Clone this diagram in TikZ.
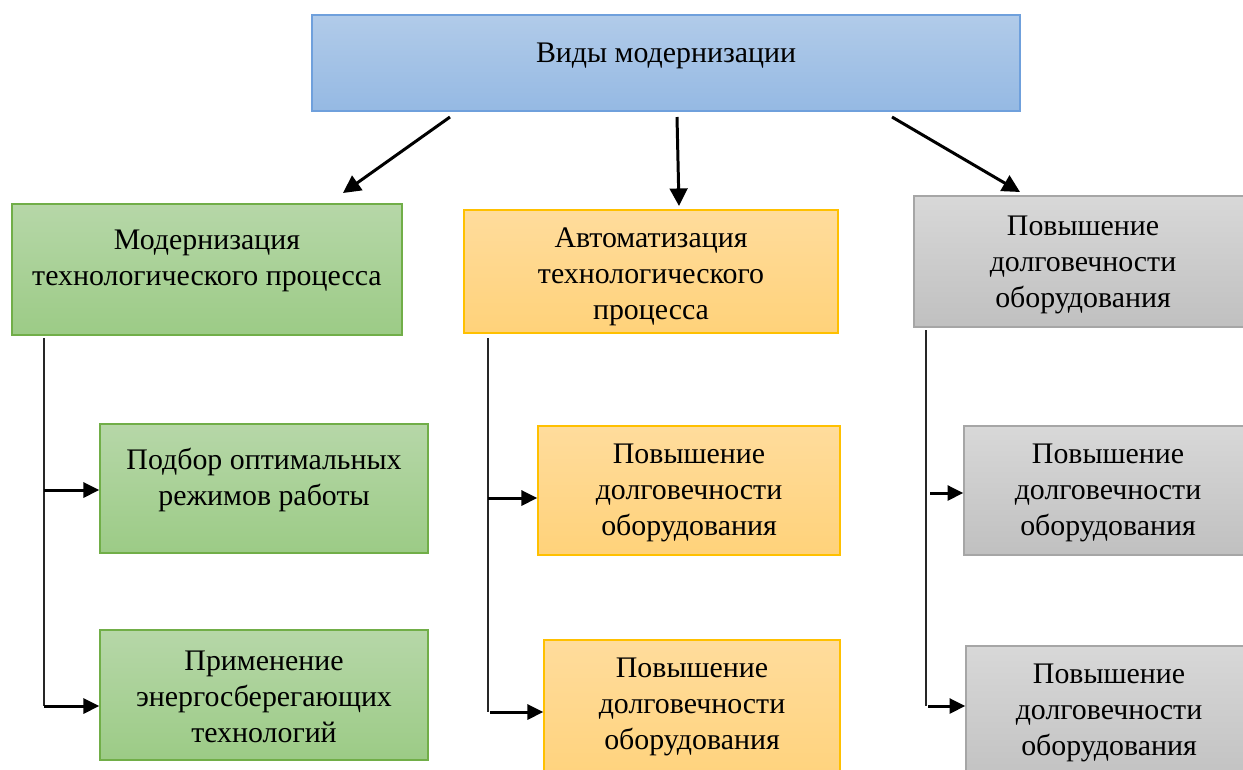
\documentclass[tikz,border=0pt]{standalone}
\usepackage{fontspec}
\setmainfont{Liberation Serif}
\usetikzlibrary{fit,arrows.meta}
\definecolor{modblue}{RGB}{177,203,233}
\definecolor{modbluedark}{RGB}{149,185,227}
\definecolor{modblueline}{RGB}{111,160,220}
\definecolor{modgreen}{RGB}{182,215,168}
\definecolor{modgreendark}{RGB}{156,203,134}
\definecolor{modgreenline}{RGB}{113,174,72}
\definecolor{modorange}{RGB}{255,220,156}
\definecolor{modorangedark}{RGB}{255,210,122}
\definecolor{modorangeline}{RGB}{255,192,0}
\definecolor{modgray}{RGB}{216,216,216}
\definecolor{modgraydark}{RGB}{192,192,192}
\definecolor{modgrayline}{RGB}{166,166,166}

\tikzset{
  box/.style={inner sep=0pt, line width=0.8pt},
  bluebox/.style={box, draw=modblueline, top color=modblue, bottom color=modbluedark},
  greenbox/.style={box, draw=modgreenline, top color=modgreen, bottom color=modgreendark},
  orangebox/.style={box, draw=modorangeline, top color=modorange, bottom color=modorangedark},
  graybox/.style={box, draw=modgrayline, top color=modgray, bottom color=modgraydark},
  txt/.style={align=center, font=\fontsize{17}{20.5}\selectfont},
  arr/.style={line width=1.7pt, -{Triangle[length=10pt, width=10pt]}},
  sarr/.style={line width=1.7pt, -{Triangle[length=9pt, width=8.5pt]}},
  vline/.style={line width=0.8pt, black!85}
}

\begin{document}
\begin{tikzpicture}[x=0.02cm, y=-0.02cm]
    \useasboundingbox (0,0) rectangle (1243,769);

    % top
    \node[bluebox, fit={(312,15) (1020,111)}] (top) {};
    \node[txt] (topt) at (666,56) {Виды модернизации};

    % first row
    \node[greenbox, fit={(12,204) (402,335)}] (g1) {};
    \node[txt] (g1t) at (207,261) {Модернизация\\технологического процесса};

    \node[orangebox, fit={(464,210) (838,333)}] (o1) {};
    \node[txt] (o1t) at (651,277) {Автоматизация\\технологического\\процесса};

    \node[graybox, fit={(914,196) (1252,327)}] (r1) {};
    \node[txt] (r1t) at (1083,265) {Повышение\\долговечности\\оборудования};

    % second row
    \node[greenbox, fit={(100,424) (428,553)}] (g2) {};
    \node[txt] (g2t) at (264,480) {Подбор оптимальных\\режимов работы};

    \node[orangebox, fit={(538,426) (840,555)}] (o2) {};
    \node[txt] (o2t) at (689,493) {Повышение\\долговечности\\оборудования};

    \node[graybox, fit={(964,426) (1252,555)}] (r2) {};
    \node[txt] (r2t) at (1108,493) {Повышение\\долговечности\\оборудования};

    % third row
    \node[greenbox, fit={(100,630) (428,760)}] (g3) {};
    \node[txt] (g3t) at (264,697) {Применение\\энергосберегающих\\технологий};

    \node[orangebox, fit={(544,640) (840,790)}] (o3) {};
    \node[txt] (o3t) at (692,707) {Повышение\\долговечности\\оборудования};

    \node[graybox, fit={(966,646) (1252,790)}] (r3) {};
    \node[txt] (r3t) at (1109,713) {Повышение\\долговечности\\оборудования};

    % arrows from top
    \coordinate (s1) at (450,117);
    \coordinate (e1) at (343,193);
    \coordinate (s2) at (677,117);
    \coordinate (e2) at (679,206);
    \coordinate (s3) at (892,117);
    \coordinate (e3) at (1020,192);
    \draw[arr] (s1) -- (e1);
    \draw[arr] (s2) -- (e2);
    \draw[arr] (s3) -- (e3);

    % branch lines
    \coordinate (v1) at (44,338);
    \coordinate (v1a) at (44,490);
    \coordinate (v1b) at (44,706);
    \draw[vline] (v1) -- (v1b);
    \draw[sarr] (v1a) -- (v1a -| g2.west);
    \draw[sarr] (v1b) -- (v1b -| g3.west);

    \coordinate (v2) at (488,338);
    \coordinate (v2a) at (488,498);
    \coordinate (v2b) at (490,712);
    \draw[vline] (v2) -- (488,712);
    \draw[sarr] (v2a) -- (v2a -| o2.west);
    \draw[sarr] (v2b) -- (v2b -| o3.west);

    \coordinate (v3) at (926,330);
    \coordinate (v3a) at (930,493);
    \coordinate (v3b) at (928,706);
    \draw[vline] (v3) -- (926,706);
    \draw[sarr] (v3a) -- (v3a -| r2.west);
    \draw[sarr] (v3b) -- (v3b -| r3.west);
\end{tikzpicture}
\end{document}
